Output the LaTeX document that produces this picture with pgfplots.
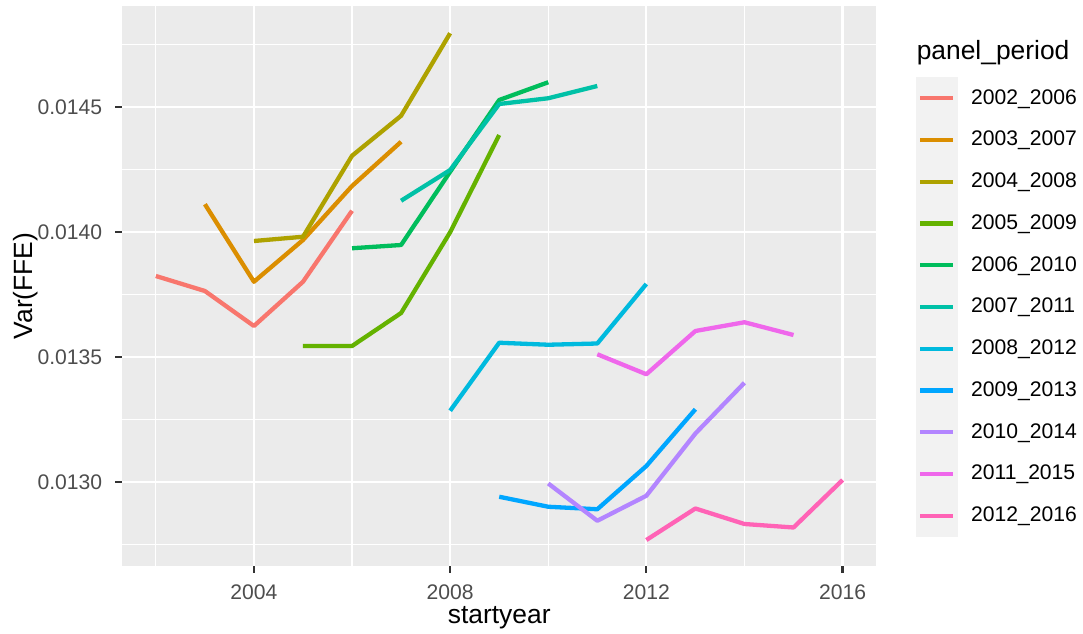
\documentclass[border=0pt]{standalone}
\usepackage{fontspec}
\setmainfont{Liberation Sans}
\usepackage{pgfplots}
\pgfplotsset{compat=1.18}

\definecolor{c1}{HTML}{F8766D}
\definecolor{c2}{HTML}{DB8E00}
\definecolor{c3}{HTML}{AEA200}
\definecolor{c4}{HTML}{64B200}
\definecolor{c5}{HTML}{00BD5C}
\definecolor{c6}{HTML}{00C1A7}
\definecolor{c7}{HTML}{00BADE}
\definecolor{c8}{HTML}{00A6FF}
\definecolor{c9}{HTML}{B385FF}
\definecolor{c10}{HTML}{EF67EB}
\definecolor{c11}{HTML}{FF63B6}
\definecolor{panelbg}{HTML}{EBEBEB}
\definecolor{keybg}{HTML}{F2F2F2}
\definecolor{gray30}{HTML}{4D4D4D}
\definecolor{gray20}{HTML}{333333}

\begin{document}
\begin{tikzpicture}
\begin{axis}[
    scale only axis,
    width = 377.2pt,
    height = 280pt,
    clip = false,
    xmin = 2001.31, xmax = 2016.69,
    ymin = 0.012663, ymax = 0.014903,
    axis background/.style = {fill=panelbg},
    axis line style = {draw=none},
    xtick = {2004,2008,2012,2016},
    minor xtick = {2002,2006,2010,2014},
    ytick = {0.0130,0.0135,0.0140,0.0145},
    minor ytick = {0.01275,0.01325,0.01375,0.01425,0.01475},
    grid = both,
    major grid style = {white, line width=1.1pt},
    minor grid style = {white, line width=0.55pt},
    tick pos = left,
    tick align = outside,
    major tick length = 3.4pt,
    minor tick length = 0pt,
    tick style = {gray20, line width=1.1pt},
    scaled y ticks = false,
    /pgf/number format/assume math mode = true,
    x tick label style = {/pgf/number format/1000 sep={}},
    y tick label style = {/pgf/number format/fixed, /pgf/number format/fixed zerofill,
        /pgf/number format/precision=4},
    ticklabel style = {font=\fontsize{10.56}{12}\selectfont, text=gray30, inner sep=0pt},
    xticklabel style = {anchor=north, yshift=-6pt},
    yticklabel style = {anchor=east, xshift=-6.3pt},
    xlabel = {startyear},
    ylabel = {Var(FFE)},
    label style = {font=\fontsize{13.2}{15}\selectfont},
    xlabel style = {at={(axis description cs:0.5,-0.1018)}, anchor=base},
    ylabel style = {at={(axis description cs:-0.118,0.5)}, anchor=base},
    every axis plot/.append style = {line width=2.15pt, line join=round},
    legend image code/.code = {
        \path[draw=none, fill=none] (0pt,-10.435pt) rectangle (21.15pt,10.435pt);
        \draw[#1] (2pt,0pt) -- (18.65pt,0pt);
    },
    legend cell align = left,
    legend style = {at={(axis description cs:1.05249,0.8725)}, anchor=north west,
        draw=none, fill=none, inner sep=0pt, outer sep=0pt, row sep=0pt, column sep=6.4pt,
        font=\fontsize{10.56}{12}\selectfont,
        nodes={inner sep=0pt}},
]

% background of the legend keys
\fill[keybg] (axis description cs:1.05249,0.87375) rectangle (axis description cs:1.10856,0.05232);

\addplot[c1] coordinates {(2002,0.013823) (2003,0.013763) (2004,0.013623) (2005,0.013800) (2006,0.014084)};
\addlegendentry{2002\_2006}
\addplot[c2] coordinates {(2003,0.014110) (2004,0.013800) (2005,0.013967) (2006,0.014183) (2007,0.014360)};
\addlegendentry{2003\_2007}
\addplot[c3] coordinates {(2004,0.013963) (2005,0.013980) (2006,0.014304) (2007,0.014464) (2008,0.014794)};
\addlegendentry{2004\_2008}
\addplot[c4] coordinates {(2005,0.013543) (2006,0.013543) (2007,0.013675) (2008,0.013998) (2009,0.014387)};
\addlegendentry{2005\_2009}
\addplot[c5] coordinates {(2006,0.013934) (2007,0.013947) (2008,0.014240) (2009,0.014527) (2010,0.014598)};
\addlegendentry{2006\_2010}
\addplot[c6] coordinates {(2007,0.014124) (2008,0.014247) (2009,0.014511) (2010,0.014534) (2011,0.014583)};
\addlegendentry{2007\_2011}
\addplot[c7] coordinates {(2008,0.013284) (2009,0.013556) (2010,0.013548) (2011,0.013553) (2012,0.013791)};
\addlegendentry{2008\_2012}
\addplot[c8] coordinates {(2009,0.012940) (2010,0.012900) (2011,0.012890) (2012,0.013063) (2013,0.013290)};
\addlegendentry{2009\_2013}
\addplot[c9] coordinates {(2010,0.012993) (2011,0.012844) (2012,0.012944) (2013,0.013193) (2014,0.013396)};
\addlegendentry{2010\_2014}
\addplot[c10] coordinates {(2011,0.013510) (2012,0.013430) (2013,0.013603) (2014,0.013638) (2015,0.013587)};
\addlegendentry{2011\_2015}
\addplot[c11] coordinates {(2012,0.012767) (2013,0.012893) (2014,0.012831) (2015,0.012817) (2016,0.013007)};
\addlegendentry{2012\_2016}

\node[anchor=base west, font=\fontsize{13.2}{15}\selectfont, inner sep=0pt]
    at (axis description cs:1.0530,0.905) {panel\_period};
\end{axis}
\pgfresetboundingbox
\path (-61pt,-33.5pt) rectangle (480.5pt,283pt);
\end{tikzpicture}
\end{document}
